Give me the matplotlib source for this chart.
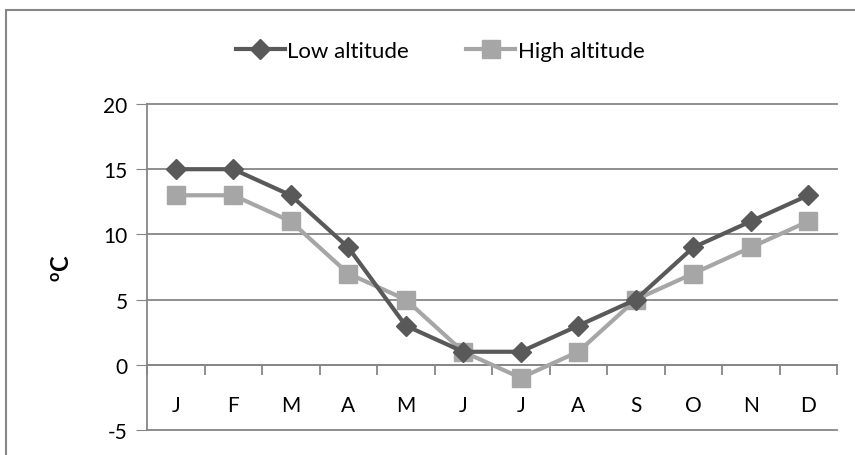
import matplotlib
matplotlib.use("Agg")
import matplotlib.pyplot as plt
from matplotlib.patches import Rectangle

months = ['J', 'F', 'M', 'A', 'M', 'J', 'J', 'A', 'S', 'O', 'N', 'D']
low_alt = [15, 15, 13, 9, 3, 1, 1, 3, 5, 9, 11, 13]
high_alt = [13, 13, 11, 7, 5, 1, -1, 1, 5, 7, 9, 11]
y_ticks = [-5, 0, 5, 10, 15, 20]

plt.rcParams['font.family'] = ['Lato', 'DejaVu Sans']
plt.rcParams['axes.unicode_minus'] = False
plt.rcParams['mathtext.fontset'] = 'custom'
plt.rcParams['mathtext.rm'] = 'Lato'
plt.rcParams['mathtext.bf'] = 'Lato:bold'
grid_col = '#868686'

fig = plt.figure(figsize=(8.55, 4.56), dpi=100)
ax = fig.add_axes([147 / 855, 1 - 431 / 456, 690 / 855, 326 / 456])

# outer chart border
fig.patches.append(Rectangle((6 / 855, -0.05), 1.1, 1 - 11 / 456 + 0.05,
                             transform=fig.transFigure, fill=False,
                             edgecolor='#878787', lw=1.5))

x = list(range(len(months)))
ax.plot(x, low_alt, color='#595959', lw=3, marker='D', ms=10,
        label='Low altitude', zorder=4)
ax.plot(x, high_alt, color='#A6A6A6', lw=3, marker='s', ms=13,
        label='High altitude', zorder=3)

ax.set_xlim(-0.5, 11.5)
ax.set_ylim(-5, 20)
ax.set_yticks(y_ticks)
ax.tick_params(axis='y', length=8, color=grid_col, labelsize=15, pad=6)
for yv in y_ticks:
    ax.axhline(yv, color=grid_col, lw=1.3, zorder=1, clip_on=False)

for s in ['top', 'right']:
    ax.spines[s].set_visible(False)
ax.spines['left'].set_color(grid_col)
ax.spines['left'].set_linewidth(1.3)
ax.spines['bottom'].set_position(('data', 0))
ax.spines['bottom'].set_color(grid_col)
ax.spines['bottom'].set_linewidth(1.3)

ax.set_xticks(x)
ax.set_xticklabels(months)
ax.set_xticks([i + 0.5 for i in range(-1, 12)], minor=True)
ax.tick_params(axis='x', which='major', length=0, labelsize=15, pad=22)
ax.tick_params(axis='x', which='minor', length=7, width=1.3, color=grid_col)

ax.set_ylabel(r'$\mathbf{^{o}C}$', fontsize=17, labelpad=21)

fig.legend(loc='center', bbox_to_anchor=(440 / 855, 1 - 52 / 456), ncol=2,
           frameon=False, fontsize=16, handlelength=2.2, handletextpad=0.1,
           columnspacing=2.6)

fig.savefig('out.png', dpi=100)
